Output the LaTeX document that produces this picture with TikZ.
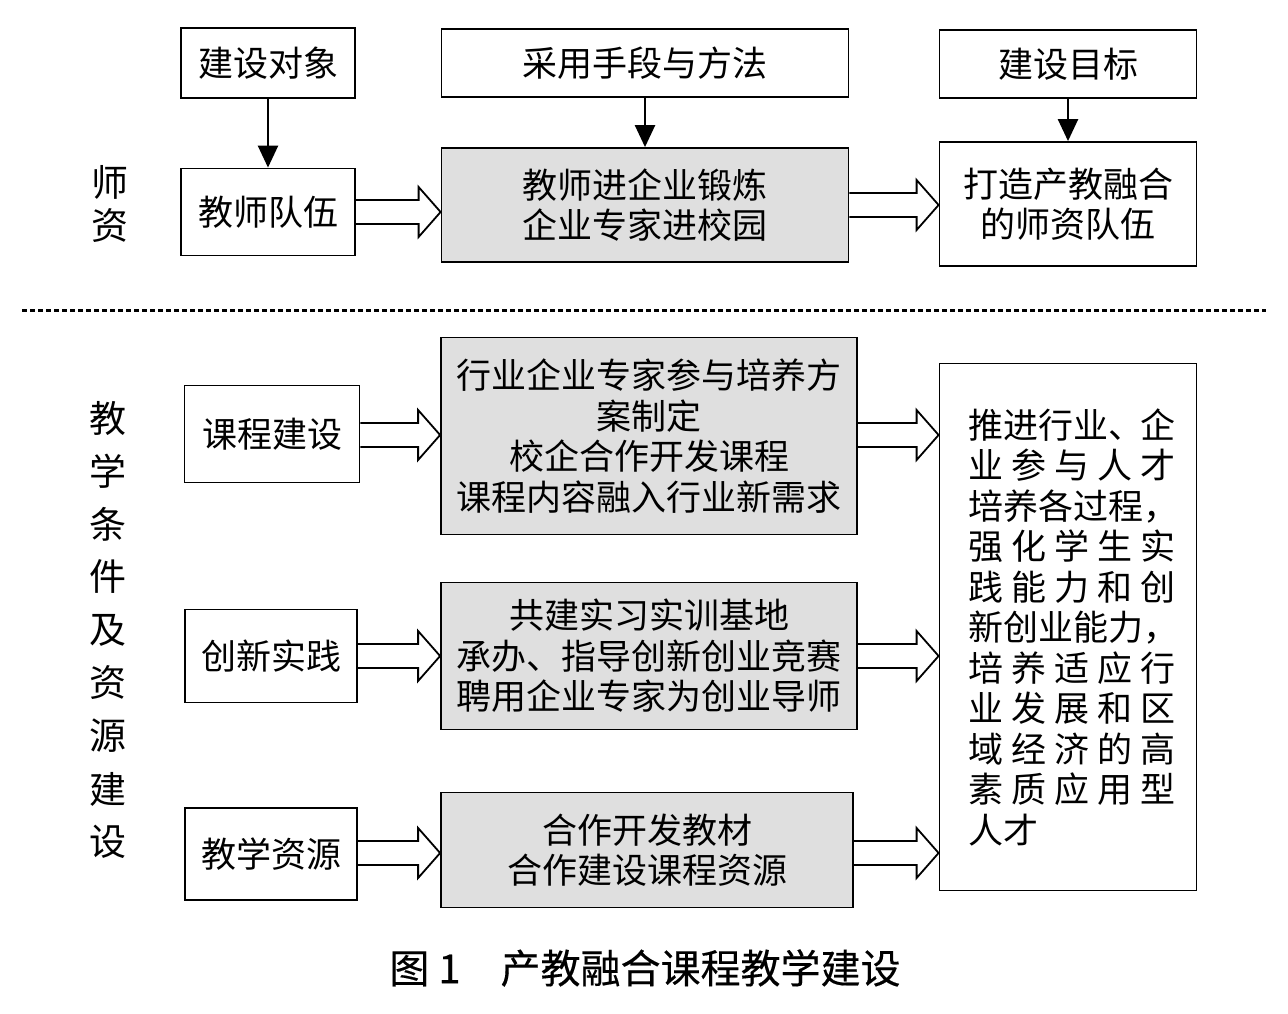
\documentclass[tikz,border=0pt]{standalone}
\usepackage{fontspec}
\setmainfont{Noto Sans CJK SC}
\newfontfamily\capfont{Noto Sans CJK SC}[FakeBold=0.3]
\usetikzlibrary{arrows.meta,calc}
\newcommand\blkarrow[3]{%
  \path (#1.east |- 0,#3) coordinate (bs) (#2.west |- 0,#3) coordinate (be);
  \draw[barrow] ($(bs)+(0,-12)$) -- ($(be)+(-22,-12)$) -- ($(be)+(-22,-25)$) -- (be)
    -- ($(be)+(-22,25)$) -- ($(be)+(-22,12)$) -- ($(bs)+(0,12)$);}
\begin{document}
\begin{tikzpicture}[x=1pt,y=-1pt,
  box/.style={draw, line width=1.8pt, align=center, inner sep=0pt,
    font=\fontsize{35}{40.5}\selectfont},
  gbox/.style={box, fill=gray!25},
  down/.style={line width=2.4pt, -{Triangle[width=20pt,length=22pt]}},
  barrow/.style={line width=1.8pt, line join=miter},
  vlab/.style={font=\fontsize{37}{40}\selectfont, inner sep=0pt}]
\useasboundingbox (0,0) rectangle (1288,1014);

% top row
\node[box, minimum width=174pt, minimum height=70pt] (objA) at (268,63) {建设对象};
\node[box, minimum width=407pt, minimum height=68pt] (objB) at (645,63) {采用手段与方法};
\node[box, minimum width=257pt, minimum height=68pt] (objC) at (1068,64) {建设目标};

\node[box, minimum width=174pt, minimum height=87pt] (t1) at (268,212) {教师队伍};
\node[gbox, minimum width=407pt, minimum height=114pt] (t2) at (645,205) {教师进企业锻炼\\企业专家进校园};
\node[box, minimum width=257pt, minimum height=124pt] (t3) at (1068,204) {打造产教融合\\的师资队伍};

\draw[down] (objA.south) -- (t1.north);
\draw[down] (objB.south) -- (t2.north);
\draw[down] (objC.south) -- (t3.north);

\blkarrow{t1}{t2}{212}
\blkarrow{t2}{t3}{205}

\node[vlab] (s1) at (110,182) {师};
\node[vlab] (s2) at (110,226) {资};

% dotted separator
\coordinate (dl) at (22,310);
\coordinate (dr) at (1266,310);
\draw[line width=3pt, dash pattern=on 5pt off 3pt] (dl) -- (dr);

% bottom part
\node[box, minimum width=175pt, minimum height=97pt] (c1) at (272,434) {课程建设};
\node[gbox, minimum width=416pt, minimum height=197pt] (g1) at (649,436)
  {行业企业专家参与培养方\\案制定\\校企合作开发课程\\课程内容融入行业新需求};
\node[box, minimum width=172pt, minimum height=93pt] (c2) at (271,656) {创新实践};
\node[gbox, minimum width=416pt, minimum height=147pt] (g2) at (649,656)
  {共建实习实训基地\\承办、指导创新创业竞赛\\聘用企业专家为创业导师};
\node[box, minimum width=172pt, minimum height=92pt] (c3) at (271,854) {教学资源};
\node[gbox, minimum width=412pt, minimum height=115pt] (g3) at (647,850)
  {合作开发教材\\合作建设课程资源};
\node[box, minimum width=257pt, minimum height=527pt] (r) at (1068,627) {};
\node[inner sep=0pt, anchor=west, align=left, font=\fontsize{35}{40.5}\selectfont] (rt) at (968,627)
  {\makebox[207pt][s]{推进行业\makebox[30pt][l]{、}\hfill 企}\\
   \makebox[207pt][s]{业\hfill 参\hfill 与\hfill 人\hfill 才}\\
   培养各过程，\\
   \makebox[207pt][s]{强\hfill 化\hfill 学\hfill 生\hfill 实}\\
   \makebox[207pt][s]{践\hfill 能\hfill 力\hfill 和\hfill 创}\\
   新创业能力，\\
   \makebox[207pt][s]{培\hfill 养\hfill 适\hfill 应\hfill 行}\\
   \makebox[207pt][s]{业\hfill 发\hfill 展\hfill 和\hfill 区}\\
   \makebox[207pt][s]{域\hfill 经\hfill 济\hfill 的\hfill 高}\\
   \makebox[207pt][s]{素\hfill 质\hfill 应\hfill 用\hfill 型}\\
   人才};

\blkarrow{c1}{g1}{435}
\blkarrow{g1}{r}{435}
\blkarrow{c2}{g2}{656}
\blkarrow{g2}{r}{656}
\blkarrow{c3}{g3}{853}
\blkarrow{g3}{r}{853}

\foreach \c [count=\i] in {教,学,条,件,及,资,源,建,设}
  \node[vlab] (v\i) at (108,{418+(\i-1)*53}) {\c};

% caption
\node[inner sep=0pt, font=\capfont\fontsize{40}{44}\selectfont] (cap) at (645,968)
  {图 1\hspace{1em}产教融合课程教学建设};
\end{tikzpicture}
\end{document}
